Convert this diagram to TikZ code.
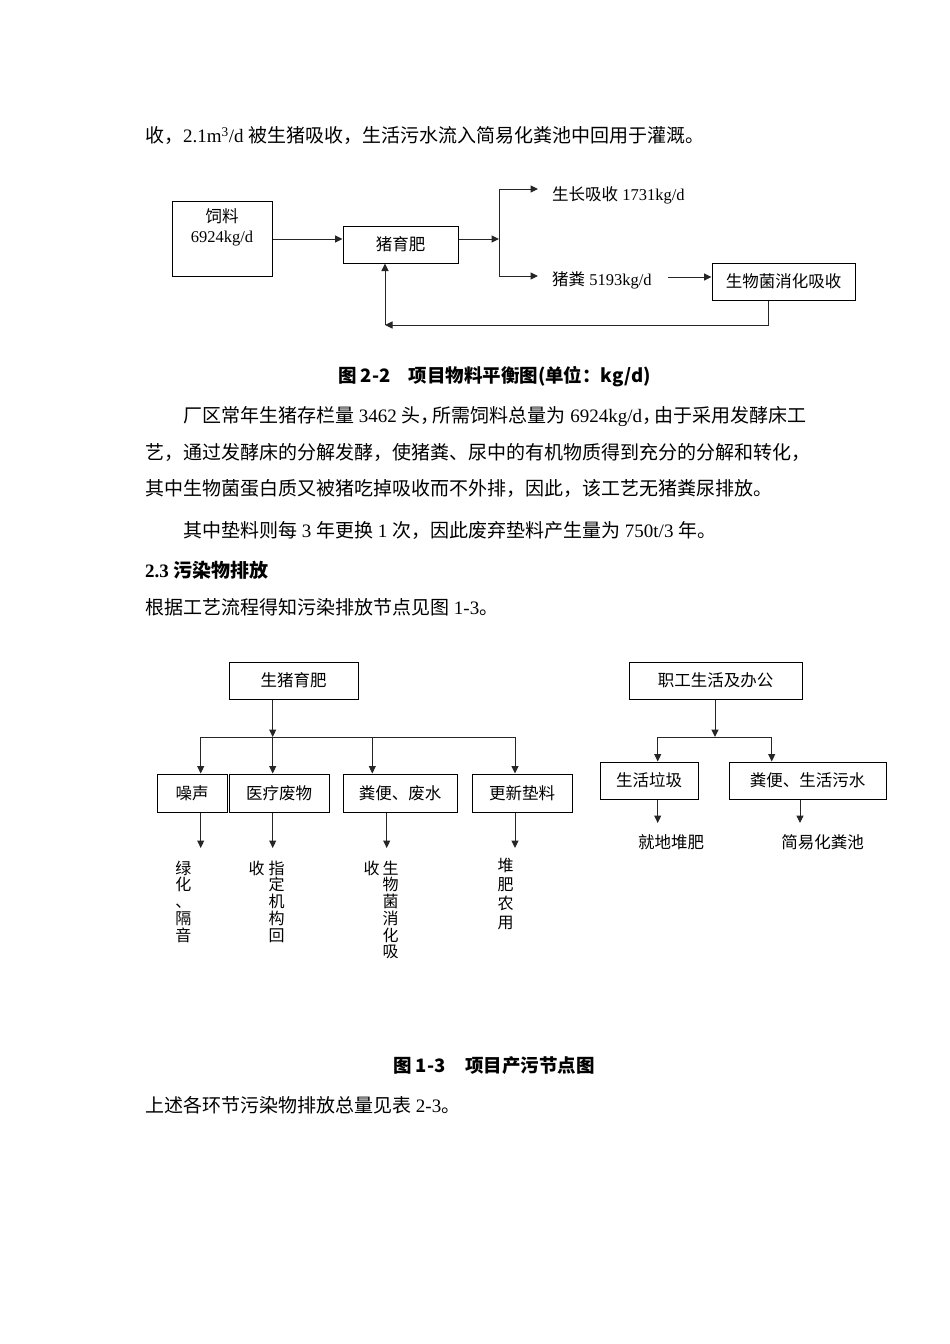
\documentclass[tikz,border=0pt]{standalone}
\usepackage{fontspec}
\setmainfont{Liberation Serif}
\newfontfamily\zh{Noto Sans CJK SC}
\usetikzlibrary{arrows.meta}
\newcommand\Z[1]{{\zh #1}}
\newcommand\ZB[1]{{\zh\bfseries #1}}
\tikzset{
  body/.style={anchor=west, inner sep=0pt, font=\fontsize{19}{19}\selectfont},
  captxt/.style={anchor=center, inner sep=0pt, font=\fontsize{18.5}{18.5}\selectfont\zh\bfseries},
  boxn/.style={draw=black, line width=1pt, inner sep=0pt, font=\fontsize{16.5}{16.5}\selectfont\zh},
  lab/.style={inner sep=0pt, font=\fontsize{16.5}{19.5}\selectfont},
  vcol/.style={inner sep=0pt, align=center, font=\fontsize{16}{16.75}\selectfont\zh},
  conn/.style={line width=1pt, draw=black!85},
  arr/.style={line width=1pt, draw=black!85, -{Triangle[length=7.5pt,width=7pt]}},
}
\begin{document}
\begin{tikzpicture}[x=1pt,y=-1pt]
\useasboundingbox[fill=white] (0,0) rectangle (950,1344);
% ---------- body text ----------
\node[body] (t0) at (145,136) {\Z{收，}2.1m\textsuperscript{3}/d \Z{被生猪吸收，生活污水流入简易化粪池中回用于灌溉。}};
\node[captxt] (cap1) at (494.5,377) {图 2-2\hspace{18pt}项目物料平衡图(单位：kg/d)};
\node[body] (p1) at (183,417) {\Z{厂区常年生猪存栏量} 3462 \Z{头，}\kern-7pt\Z{所需饲料总量为} 6924kg/d\Z{，}\kern-7pt\Z{由于采用发酵床工}};
\node[body] (p2) at (145,452) {\Z{艺，通过发酵床的分解发酵，使猪粪、尿中的有机物质得到充分的分解和转化，}};
\node[body] (p3) at (145,488) {\Z{其中生物菌蛋白质又被猪吃掉吸收而不外排，因此，该工艺无猪粪尿排放。}};
\node[body] (p4) at (183,530) {\Z{其中垫料则每} 3 \Z{年更换} 1 \Z{次，因此废弃垫料产生量为} 750t/3 \Z{年。}};
\node[body, font=\fontsize{19}{19}\selectfont\bfseries] (h23) at (145,570) {2.3 \ZB{污染物排放}};
\node[body] (p5) at (145,607) {\Z{根据工艺流程得知污染排放节点见图} 1-3\Z{。}};
\node[captxt] (cap2) at (494,1066) {图 1-3\hspace{20pt}项目产污节点图};
\node[body] (p6) at (145,1105) {\Z{上述各环节污染物排放总量见表} 2-3\Z{。}};
% ---------- diagram 1 ----------
\node[boxn, minimum width=100pt, minimum height=75pt] (feed) at (222,238.5) {};
\node[lab, align=center] (feedtxt) at (222,227.5) {\Z{饲料}\\6924kg/d};
\node[boxn, minimum width=115pt, minimum height=37pt] (pig) at (400.5,244.5) {猪育肥};
\coordinate (y239) at (0,239);
\draw[arr] (feed.east |- y239) -- (pig.west |- y239);
\coordinate (j1) at (499,239);
\coordinate (jt) at (499,189);
\coordinate (jb) at (499,276);
\coordinate (gt) at (538,189);
\coordinate (gb) at (538,276);
\draw[arr] (pig.east |- j1) -- (j1);
\draw[conn] (jt) -- (jb);
\draw[arr] (jt) -- (gt);
\draw[arr] (jb) -- (gb);
\node[lab, anchor=west] (grow) at (552,195) {\Z{生长吸收} 1731kg/d};
\node[lab, anchor=west] (manure) at (552,280) {\Z{猪粪} 5193kg/d};
\node[boxn, minimum width=143pt, minimum height=37pt] (bio) at (783.5,281.5) {生物菌消化吸收};
\coordinate (ms) at (668,277);
\draw[arr] (ms) -- (bio.west |- ms);
\coordinate (fb1) at (768,325);
\coordinate (fb2) at (385,325);
\draw[arr] (bio.south -| fb1) -- (fb1) -- (fb2);
\draw[arr] (fb2) -- (pig.south -| fb2);
% ---------- diagram 2 ----------
\node[boxn, minimum width=129pt, minimum height=37pt] (sz) at (293.5,680.5) {生猪育肥};
\coordinate (b1) at (272.7,737);
\coordinate (bl) at (200.7,737);
\coordinate (b3) at (372.3,737);
\coordinate (br) at (515,737);
\draw[arr] (sz.south -| b1) -- (b1);
\draw[conn] (bl) -- (br);
\node[boxn, minimum width=70pt, minimum height=38pt] (noise) at (192,793) {噪声};
\node[boxn, minimum width=100pt, minimum height=38pt] (med) at (279,793) {医疗废物};
\node[boxn, minimum width=114pt, minimum height=38pt] (feces) at (400,793) {粪便、废水};
\node[boxn, minimum width=100pt, minimum height=38pt] (bed) at (522,793) {更新垫料};
\draw[arr] (bl) -- (noise.north -| bl);
\draw[arr] (b1) -- (med.north -| b1);
\draw[arr] (b3) -- (feces.north -| b3);
\draw[arr] (br) -- (bed.north -| br);
\coordinate (d1) at (200.7,848);
\coordinate (d2) at (272.7,848);
\coordinate (d3) at (386.7,848);
\coordinate (d4) at (515,848);
\draw[arr] (noise.south -| d1) -- (d1);
\draw[arr] (med.south -| d2) -- (d2);
\draw[arr] (feces.south -| d3) -- (d3);
\draw[arr] (bed.south -| d4) -- (d4);
\node[vcol] (va) at (183.3,901.5) {绿\\化\\、\\隔\\音};
\node[vcol] (vbs) at (256.7,868) {收};
\node[vcol] (vb) at (276.7,901.5) {指\\定\\机\\构\\回};
\node[vcol] (vcs) at (371.7,868) {收};
\node[vcol] (vc) at (390.7,910) {生\\物\\菌\\消\\化\\吸};
\node[vcol, font=\fontsize{16}{19}\selectfont\zh] (vd) at (505.7,893.5) {堆\\肥\\农\\用};
% ---------- diagram 3 ----------
\node[boxn, minimum width=173pt, minimum height=37pt] (staff) at (715.5,680.5) {职工生活及办公};
\coordinate (c1) at (715,737);
\coordinate (cl) at (657.7,737);
\coordinate (cr) at (771.7,737);
\draw[arr] (staff.south -| c1) -- (c1);
\draw[conn] (cl) -- (cr);
\node[boxn, minimum width=98pt, minimum height=37pt] (garb) at (649,780.5) {生活垃圾};
\node[boxn, minimum width=157pt, minimum height=37pt] (sew) at (807.5,780.5) {粪便、生活污水};
\draw[arr] (cl) -- (garb.north -| cl);
\draw[arr] (cr) -- (sew.north -| cr);
\coordinate (e1) at (657.7,823);
\coordinate (e2) at (800,823);
\draw[arr] (garb.south -| e1) -- (e1);
\draw[arr] (sew.south -| e2) -- (e2);
\node[lab] (compost) at (671,842) {\Z{就地堆肥}};
\node[lab] (septic) at (822.5,842) {\Z{简易化粪池}};
\end{tikzpicture}
\end{document}
